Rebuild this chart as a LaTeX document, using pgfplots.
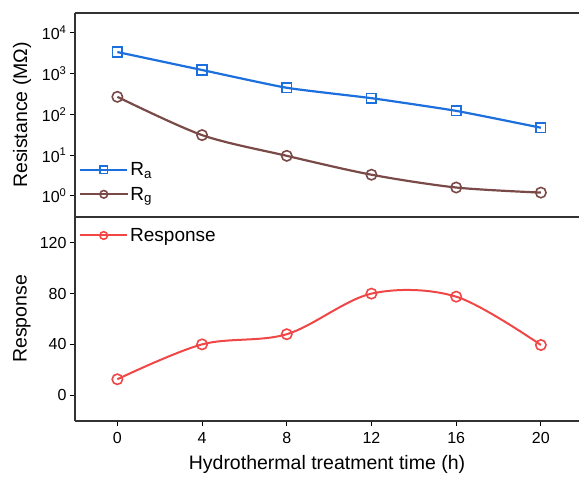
\documentclass[border=0pt]{standalone}
\usepackage{fontspec}
\setmainfont{Liberation Sans}
\usepackage{pgfplots}
\pgfplotsset{compat=1.18}
\definecolor{cRa}{RGB}{28,111,220}
\definecolor{cRg}{RGB}{122,74,72}
\definecolor{cResp}{RGB}{240,70,70}
\definecolor{frame}{RGB}{50,50,50}

\pgfplotsset{
  panel/.style={
    width=504pt, height=204pt, scale only axis,
    xmin=-2, xmax=21.8,
    axis x line*=box, axis y line*=left,
    axis line style={frame, line width=1.2pt},
    tick align=outside, tick pos=left,
    major tick length=5pt,
    every tick/.style={black, line width=1.1pt},
    /pgf/number format/assume math mode=true,
    tick label style={font=\fontsize{16}{19}\selectfont},
    xticklabel style={yshift=-3pt},
    label style={font=\fontsize{19.5}{23}\selectfont},
    ylabel style={at={(rel axis cs:0,0.5)}, yshift=53pt, anchor=center},
    legend style={draw=none, fill=none, font=\fontsize{19}{23}\selectfont,
      row sep=6pt, inner xsep=4pt},
    legend cell align=left,
    legend image code/.code={
      \draw[mark repeat=2, mark phase=2, #1, mark size=3.8pt]
        plot coordinates {(0pt,0pt) (23.5pt,0pt) (47pt,0pt)};
    },
  }
}

\begin{document}
\begin{tikzpicture}
\begin{axis}[panel, name=top,
    ymode=log, ymin=0.302, ymax=30900,
    ytick={1,10,100,1000,10000},
    yticklabels={10\textsuperscript{0},10\textsuperscript{1},10\textsuperscript{2},10\textsuperscript{3},10\textsuperscript{4}},
    yminorticks=false,
    xtick=\empty,
    ylabel={Resistance (MΩ)},
    legend style={at={(rel axis cs:0,0.055)}, anchor=south west},
]
\addplot[cRa, line width=2.2pt, smooth, tension=0.3, mark=square, mark size=4.8pt,
  mark options={fill=white, line width=1.6pt, solid}] coordinates {
(0,3400) (4,1230) (8,450) (12,250) (16,122) (20,47)
};
\addlegendentry{R\textsubscript{a}}
\addplot[cRg, line width=2.2pt, smooth, tension=0.5, mark=o, mark size=5.2pt,
  mark options={fill=white, line width=1.6pt, solid}] coordinates {
(0,270) (4,31) (8,9.6) (12,3.3) (16,1.6) (20,1.2)
};
\addlegendentry{R\textsubscript{g}}
\end{axis}

\begin{axis}[panel, name=bot,
    at={(top.south west)}, anchor=north west,
    ymin=-20.4, ymax=140.4,
    ytick={0,40,80,120},
    xtick={0,4,8,12,16,20},
    ylabel={Response},
    xlabel={Hydrothermal treatment time (h)},
    xlabel style={at={(rel axis cs:0.5,0)}, yshift=-43pt, anchor=center},
    legend style={at={(rel axis cs:0,1)}, yshift=-7pt, anchor=north west},
]
\addplot[cResp, line width=2pt, smooth, tension=0.55, mark=o, mark size=5.2pt,
  mark options={fill=white, line width=1.6pt, solid}] coordinates {
(0,12.5) (4,40) (8,48) (12,80) (16,77.6) (20,39.5)
};
\addlegendentry{Response}
\end{axis}

\pgfresetboundingbox
\path[use as bounding box] ([shift={(-75pt,13pt)}]top.north west) rectangle ++(579pt,-479pt);
\end{tikzpicture}
\end{document}
